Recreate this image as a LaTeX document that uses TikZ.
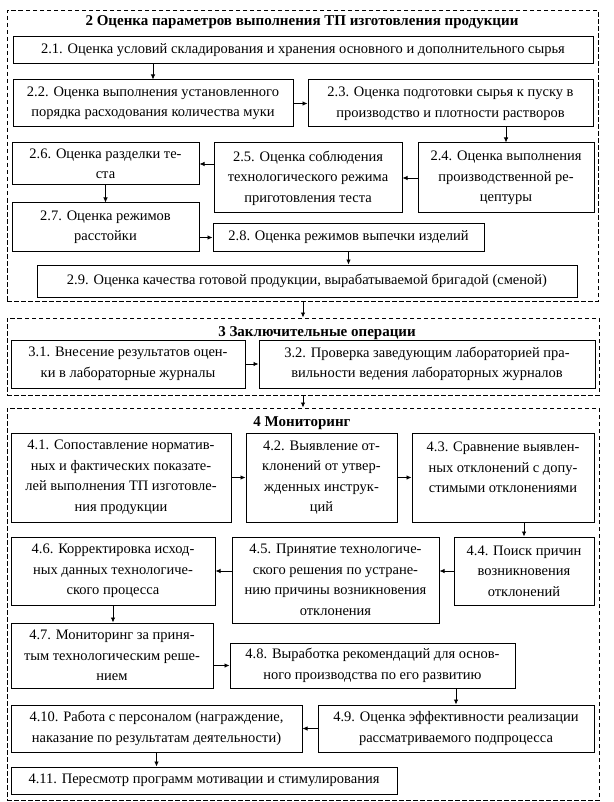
\documentclass[tikz,border=0pt]{standalone}
\usepackage{fontspec}
\setmainfont{Liberation Serif}
\usetikzlibrary{arrows.meta}
\tikzset{
  x=1pt, y=-1pt,
  box/.style={draw, line width=1pt, inner sep=0pt, align=center,
    font=\fontsize{14.5}{20.5}\selectfont},
  sect/.style={draw, dash pattern=on 4.5pt off 2.5pt, line width=1pt, inner sep=0pt},
  ttl/.style={font=\bfseries\fontsize{15}{17}\selectfont, inner sep=0pt},
  arr/.style={-{Latex[length=5pt,width=4.5pt]}, line width=0.8pt}
}
\newcommand\mybox[6]{\node[box, minimum width={(#4-#2)*1pt}, minimum height={(#5-#3)*1pt}] (#1) at ({(#2+#4)/2},{(#3+#5)/2}) {#6};}
\newcommand\mysect[5]{\node[sect, minimum width={(#4-#2)*1pt}, minimum height={(#5-#3)*1pt}] (#1) at ({(#2+#4)/2},{(#3+#5)/2}) {};}
\begin{document}
\begin{tikzpicture}
\useasboundingbox (0,0) rectangle (613,802);
% sections
\mysect{S2}{7}{11}{598}{301}
\mysect{S3}{7}{318}{599}{395}
\mysect{S4}{7}{408}{599}{800}
\node[ttl] (T2) at (302,22) {2 Оценка параметров выполнения ТП изготовления продукции};
\node[ttl] (T3) at (317,333) {3 Заключительные операции};
\node[ttl] (T4) at (302,423) {4 Мониторинг};
% section 2
\mybox{b21}{13}{37}{593}{64}{2.1. Оценка условий складирования и хранения основного и дополнительного сырья}
\mybox{b22}{13}{80}{293}{127}{2.2. Оценка выполнения установленного\\порядка расходования количества муки}
\mybox{b23}{308}{80}{593}{127}{2.3. Оценка подготовки сырья к пуску в\\производство и плотности растворов}
\mybox{b24}{418}{143}{594}{213}{2.4. Оценка выполнения\\производственной ре-\\цептуры}
\mybox{b25}{214}{143}{402}{213}{2.5. Оценка соблюдения\\технологического режима\\приготовления теста}
\mybox{b26}{12}{143}{199}{185}{2.6. Оценка разделки те-\\ста}
\mybox{b27}{12}{203}{199}{251}{2.7. Оценка режимов\\расстойки}
\mybox{b28}{213}{224}{484}{251}{2.8. Оценка режимов выпечки изделий}
\mybox{b29}{37}{265}{577}{297}{2.9. Оценка качества готовой продукции, вырабатываемой бригадой (сменой)}
% section 3
\mybox{b31}{11}{340}{245}{388}{3.1. Внесение результатов оцен-\\ки в лабораторные журналы}
\mybox{b32}{259}{340}{595}{388}{3.2. Проверка заведующим лабораторией пра-\\вильности ведения лабораторных журналов}
% section 4
\mybox{b41}{11}{433}{231}{522}{4.1. Сопоставление норматив-\\ных и фактических показате-\\лей выполнения ТП изготовле-\\ния продукции}
\mybox{b42}{246}{433}{397}{522}{4.2. Выявление от-\\клонений от утвер-\\жденных инструк-\\ций}
\mybox{b43}{412}{433}{594}{522}{4.3. Сравнение выявлен-\\ных отклонений с допу-\\стимыми отклонениями\\\mbox{}}
\mybox{b44}{454}{537}{594}{605}{4.4. Поиск причин\\возникновения\\отклонений}
\mybox{b45}{232}{537}{439}{623}{4.5. Принятие технологиче-\\ского решения по устране-\\нию причины возникновения\\отклонения}
\mybox{b46}{11}{537}{215}{605}{4.6. Корректировка исход-\\ных данных технологиче-\\ского процесса}
\mybox{b47}{11}{623}{213}{688}{4.7. Мониторинг за приня-\\тым технологическим реше-\\нием}
\mybox{b48}{230}{643}{515}{688}{4.8. Выработка рекомендаций для основ-\\ного производства по его развитию}
\mybox{b49}{318}{705}{594}{752}{4.9. Оценка эффективности реализации\\рассматриваемого подпроцесса}
\mybox{b410}{11}{705}{302}{752}{4.10. Работа с персоналом (награждение,\\наказание по результатам деятельности)}
\mybox{b411}{11}{767}{397}{794}{4.11. Пересмотр программ мотивации и стимулирования}
% arrows section 2
\draw[arr] (b22.north |- b21.south) -- (b22.north);
\draw[arr] (b22.east) -- (b23.west |- b22.east);
\draw[arr] (b24.north |- b23.south) -- (b24.north);
\draw[arr] (b24.west) -- (b25.east |- b24.west);
\draw[arr] (b25.west |- b26.east) -- (b26.east);
\draw[arr] (b27.north |- b26.south) -- (b27.north);
\draw[arr] (b27.east |- b28.west) -- (b28.west);
\draw[arr] (b28.south) -- (b28.south |- b29.north);
\draw[arr] (S3.north |- S2.south) -- (S3.north);
% section 3
\draw[arr] (b31.east) -- (b32.west |- b31.east);
\draw[arr] (S4.north |- S3.south) -- (S4.north);
% section 4
\draw[arr] (b41.east) -- (b42.west |- b41.east);
\draw[arr] (b42.east) -- (b43.west |- b42.east);
\draw[arr] (b44.north |- b43.south) -- (b44.north);
\draw[arr] (b44.west) -- (b45.east |- b44.west);
\draw[arr] (b45.west |- b46.east) -- (b46.east);
\draw[arr] (b46.south) -- (b46.south |- b47.north);
\draw[arr] (b47.east |- b48.west) -- (b48.west);
\draw[arr] (b49.north |- b48.south) -- (b49.north);
\draw[arr] (b49.west) -- (b410.east |- b49.west);
\draw[arr] (b410.south) -- (b410.south |- b411.north);
\end{tikzpicture}
\end{document}
